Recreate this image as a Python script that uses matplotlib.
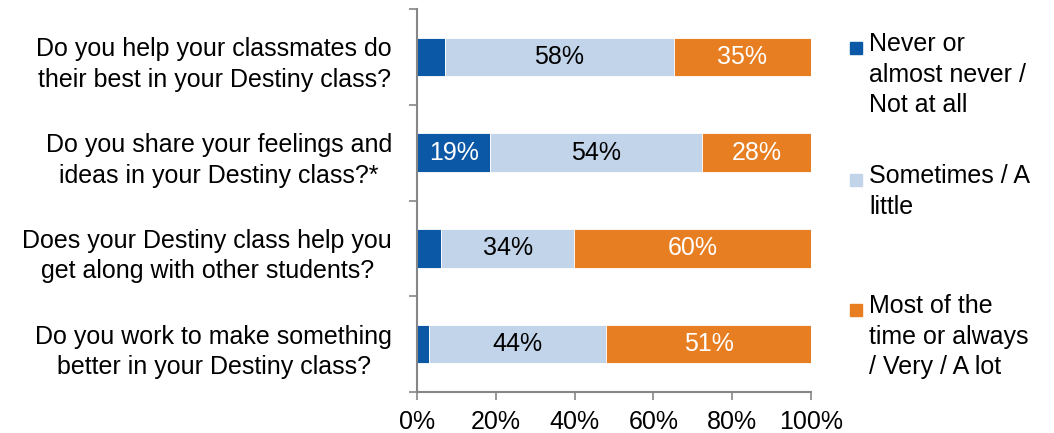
import numpy as np
import matplotlib.pyplot as plt
from matplotlib.patches import Rectangle

plt.rcParams['font.family'] = ['Liberation Sans', 'DejaVu Sans']

questions = [
    "Do you help your classmates do\ntheir best in your Destiny class?",
    "Do you share your feelings and\nideas in your Destiny class?*",
    "Does your Destiny class help you\nget along with other students?",
    "Do you work to make something\nbetter in your Destiny class?",
]
never = [7.1, 18.6, 6.2, 3.1]
sometimes = [58.1, 53.8, 33.7, 44.4]
most = [34.8, 27.6, 60.1, 51.4]
series_names = [
    "Never or\nalmost never /\nNot at all",
    "Sometimes / A\nlittle",
    "Most of the\ntime or always\n/ Very / A lot",
]
colors = ["#0B58A6", "#C2D4E9", "#E87E22"]
text_colors = ["white", "black", "white"]

data = np.array([never, sometimes, most])
# 100% stacked: each row scaled to its total
shares = data / data.sum(axis=0) * 100

W, H = 1054, 433
fig = plt.figure(figsize=(W / 100, H / 100), dpi=100)
ax = fig.add_axes([417 / W, 1 - 392 / H, 394 / W, 383 / H])

y = np.arange(len(questions))
left = np.zeros(len(questions))
for i in range(3):
    ax.barh(y, shares[i], left=left, height=0.4, color=colors[i],
            edgecolor='white', linewidth=0.6)
    for j in range(len(questions)):
        if data[i, j] >= 10:
            ax.text(left[j] + shares[i, j] / 2, y[j], f"{data[i, j]:.0f}%",
                    ha='center', va='center', fontsize=18, color=text_colors[i])
    left += shares[i]

ax.set_xlim(0, 100)
ax.set_ylim(len(questions) - 0.5, -0.5)
ax.set_xticks(np.arange(0, 101, 20))
ax.set_xticklabels([f"{v}%" for v in range(0, 101, 20)], fontsize=18)

ax.set_yticks(np.arange(-0.5, len(questions), 1))
ax.set_yticklabels([])
ax.set_yticks(y + 0.02, minor=True)
ax.set_yticklabels(questions, minor=True, fontsize=18, multialignment='center',
                   linespacing=1.35)
ax.tick_params(axis='y', which='minor', length=0, pad=18)
ax.tick_params(axis='y', which='major', length=6, color='#868686', width=1.2)
ax.tick_params(axis='x', length=6, color='#868686', width=1.2, pad=7)

for side in ['top', 'right']:
    ax.spines[side].set_visible(False)
for side in ['left', 'bottom']:
    ax.spines[side].set_color('#868686')
    ax.spines[side].set_linewidth(1.5)

# legend drawn by hand to get the uneven spacing between entries
legend_centers = [48, 180, 310]  # pixel rows of the first line of each entry
for name, c, yc in zip(series_names, colors, legend_centers):
    fig.add_artist(Rectangle((850 / W, 1 - (yc + 6) / H), 12 / W, 12 / H,
                             transform=fig.transFigure, color=c))
    fig.text(869 / W, 1 - (yc - 16) / H, name, fontsize=18, va='top',
             ha='left', linespacing=1.35)

fig.savefig('out.png', dpi=100)
